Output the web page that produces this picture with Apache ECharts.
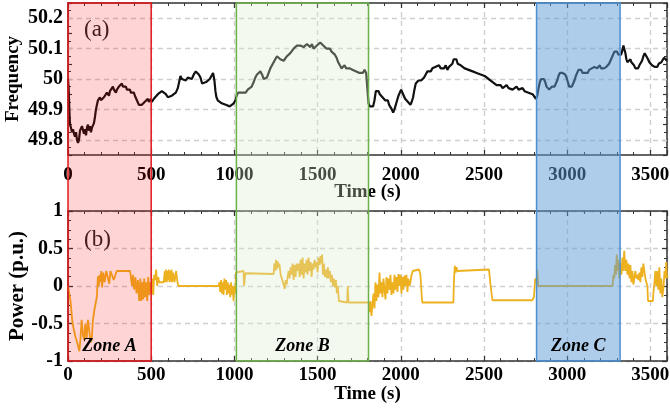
<!DOCTYPE html>
<html>
<head>
<meta charset="utf-8">
<script src="https://cdn.jsdelivr.net/npm/echarts@6/dist/echarts.min.js"></script>
<style>
html,body{margin:0;padding:0;background:#fff}
#chart{width:670px;height:408px}
</style>
</head>
<body>
<div id="chart"></div>
<script>
// Grid frequency (Hz) over one hour
const freqTime = [
  0,4,8,12,18,24,30,36,42,48,54,60,66,72,78,84,90,96,102,108,114,120,126,132,138,144,150,156,162,168,174,180,186,192,198,
  204,210,216,222,228,234,240,246,252,258,264,270,276,282,288,294,300,306,312,318,324,330,336,342,348,354,360,366,372,378,
  384,390,396,402,408,414,420,426,432,438,444,450,456,462,468,474,480,486,492,498,
  504,516,528,540,552,564,576,588,600,612,624,636,648,660,668,676,684,696,708,720,732,744,756,768,778,786,796,806,818,830,
  842,852,862,872,880,886,892,900,912,924,936,948,960,972,984,996,1006,1014,1022,1032,1044,1056,1068,1080,1092,1104,1116,
  1126,1136,1146,1156,1166,1176,1186,1196,1206,1216,1226,1236,1246,1256,1266,1276,1286,1296,1306,1316,1326,1336,1346,1356,
  1366,1376,1386,1396,1406,1416,1426,1436,1446,1456,1466,1476,1486,1496,1506,1516,1526,1534,1544,1554,1564,1574,1584,1594,
  1604,1614,1624,1634,1644,1652,1662,1672,1682,1692,1702,1712,1722,1732,1742,1752,1762,1772,1782,1792,1802,
  1806,1814,1824,1834,1842,1850,1858,1866,1874,1882,1890,1898,1906,1914,1922,1930,1938,1946,1954,1962,1970,1978,1986,1994,
  2002,2010,2018,2026,2034,2042,2050,2058,2066,2074,2082,2090,2098,2106,2114,2122,2130,2140,2150,2160,2170,2180,2190,2200,
  2210,2220,2230,2240,2250,2260,2270,2280,2290,2300,2310,2318,2326,2334,2342,2350,2360,2372,2384,2396,2408,2420,2432,2444,
  2456,2468,2480,2492,2504,2516,2528,2540,2552,2564,2576,2588,2600,2612,2624,2636,2648,2660,2672,2684,2696,2708,2720,2732,
  2744,2756,2768,2780,2792,2804,2812,2820,2828,2836,2844,2852,2860,2868,2876,2884,2892,2900,2908,2916,2924,2932,2940,2948,
  2956,2964,2972,2980,2988,2996,3004,3012,3020,3028,3036,3044,3052,3060,3068,3076,3084,3092,3100,3108,3116,3124,3132,3140,
  3148,3156,3164,3172,3180,3188,3196,3204,3212,3220,3228,3236,3244,3252,3260,3268,3276,3284,3292,3300,3308,3316,3324,3332,
  3338,3344,3350,3356,3362,3368,3374,3380,3386,3394,3402,3410,3418,3426,3434,3442,3450,3458,3466,3472,3478,3486,3494,3502,
  3510,3518,3526,3534,3542,3550,3558,3566,3574,3582,3590,3600
];
const freqValue = [
  50.00,49.97,49.90,49.85,49.84,49.825,49.835,49.82,49.81,49.825,49.80,49.79,49.80,49.83,49.825,49.845,49.84,49.82,49.835,49.815,49.84,49.85,49.83,49.845,49.825,49.84,49.835,49.855,49.875,49.90,49.915,49.93,49.925,49.94,49.93,
  49.935,49.925,49.94,49.945,49.94,49.955,49.95,49.945,49.96,49.955,49.965,49.975,49.965,49.96,49.955,49.965,49.97,49.975,49.97,49.98,49.985,49.975,49.98,49.97,49.975,49.965,49.97,49.96,49.965,49.955,
  49.96,49.95,49.955,49.945,49.94,49.93,49.925,49.915,49.92,49.91,49.915,49.92,49.915,49.925,49.92,49.93,49.935,49.925,49.93,49.935,
  49.925,49.935,49.94,49.95,49.955,49.96,49.955,49.95,49.94,49.935,49.945,49.95,49.955,49.97,49.99,50.01,50.00,50.005,49.995,50.005,50.01,50.00,50.015,50.025,50.03,50.015,50.005,49.985,49.98,49.99,
  49.985,50.00,50.01,50.02,49.995,49.96,49.94,49.93,49.935,49.92,49.925,49.915,49.92,49.91,49.915,49.92,49.93,49.945,49.955,49.95,49.955,49.96,49.955,49.965,49.97,49.975,49.99,
  50.005,50.015,50.01,50.025,50.015,50.00,49.995,50.005,50.02,50.035,50.045,50.055,50.065,50.075,50.07,50.065,50.07,50.06,50.065,50.075,50.08,50.085,50.09,50.10,
  50.105,50.11,50.105,50.11,50.11,50.105,50.11,50.115,50.11,50.105,50.115,50.10,50.105,50.11,50.115,50.12,50.125,50.11,50.105,50.10,50.095,50.10,50.09,50.085,
  50.08,50.07,50.055,50.045,50.035,50.04,50.045,50.035,50.04,50.035,50.04,50.03,50.035,50.025,50.03,50.02,50.025,50.02,50.03,50.02,50.025,
  49.92,49.91,49.915,49.91,49.93,49.96,49.955,49.96,49.95,49.955,49.94,49.945,49.93,49.925,49.93,49.915,49.91,49.90,49.89,49.90,49.915,49.93,49.945,49.955,
  49.965,49.96,49.945,49.935,49.93,49.925,49.92,49.915,49.925,49.94,49.965,49.985,49.99,49.995,49.99,49.995,50.00,50.005,50.015,50.025,50.03,50.025,50.035,50.03,
  50.04,50.035,50.045,50.035,50.04,50.035,50.045,50.03,50.04,50.035,50.05,50.065,50.06,50.065,50.05,50.055,50.045,50.04,50.035,50.04,50.03,50.035,50.025,50.03,
  50.02,50.025,50.015,50.02,50.01,50.005,50.00,49.995,49.99,49.985,49.98,49.975,49.98,49.97,49.975,49.98,49.97,49.975,49.965,49.97,49.975,49.965,49.96,49.97,
  49.96,49.965,49.955,49.96,49.95,49.945,49.935,49.945,49.97,49.99,50.00,49.995,50.00,49.99,49.975,49.97,49.965,49.97,49.975,49.97,49.975,49.985,49.995,50.01,
  50.02,50.025,50.02,50.025,50.015,50.005,49.99,49.975,49.97,49.975,49.985,49.995,50.01,50.02,50.03,50.025,50.03,50.02,50.025,50.02,50.025,50.02,50.03,50.025,
  50.035,50.03,50.04,50.045,50.035,50.04,50.045,50.035,50.04,50.035,50.03,50.04,50.035,50.05,50.06,50.07,50.08,50.09,50.085,50.09,50.08,50.075,50.08,50.095,
  50.11,50.105,50.085,50.065,50.055,50.06,50.05,50.065,50.055,50.06,50.045,50.035,50.04,50.035,50.045,50.05,50.06,50.075,50.085,50.09,50.08,50.065,50.055,50.06,
  50.045,50.05,50.04,50.045,50.04,50.05,50.045,50.055,50.06,50.07,50.065,50.06
];

// Storage power output (p.u.)
const powerTime = [
  0,8,15,25,32,45,55,68,75,82,90,97,104,112,120,128,135,142,150,160,173,180,185,190,195,200,205,212,220,230,240,248,255,265,275,285,293,300,373,
  380,385,390,398,405,412,420,428,435,440,447,452,458,464,470,476,482,488,494,500,506,512,518,524,530,536,542,548,575,
  582,586,590,594,598,602,606,610,614,618,622,626,632,640,650,658,664,905,
  910,915,920,925,930,935,940,945,950,955,960,965,970,975,980,985,990,995,1000,1005,1010,1015,1055,1058,1063,1066,1236,
  1240,1245,1250,1255,1260,1265,1270,1278,1285,1292,1298,1302,1308,1314,1320,1326,1332,1338,1344,1350,1356,1362,1368,1374,
  1380,1386,1392,1398,1404,1410,1416,1422,1428,1434,1440,1446,1452,1458,1464,1470,1476,1482,1488,1494,1500,1506,1512,1518,
  1524,1527,1532,1538,1544,1550,1556,1562,1568,1574,1580,1586,1592,1598,1604,1610,1616,1622,1628,1633,1678,1681,1686,1808,
  1812,1818,1824,1830,1836,1842,1848,1854,1860,1866,1872,1878,1884,1890,1896,1902,1908,1914,1920,1926,1932,1938,1944,1950,
  1956,1962,1968,1974,1980,1986,1992,1998,2004,2010,2016,2022,2028,2034,2040,2046,2052,2058,2065,2072,2079,2110,2118,2125,
  2129,2316,2320,2325,2330,2335,2340,2345,2530,2540,2551,2790,2800,2808,2815,2820,2826,2830,3273,
  3278,3283,3288,3293,3298,3303,3308,3313,3320,3326,3332,3337,3343,3350,3356,3362,3368,3375,3380,3386,3392,3398,3404,3410,
  3416,3422,3428,3434,3440,3446,3452,3458,3464,3470,3476,3482,3486,3500,3515,3520,3525,3530,3536,3542,3548,3554,3560,3566,
  3572,3580,3585,3590,3595,3600
];
const powerValue = [
  0,0,-0.2,-0.45,-0.55,-0.68,-0.75,-0.87,-0.7,-0.45,-0.65,-0.72,-0.5,-0.7,-0.45,-0.6,-0.75,-0.72,-0.45,-0.3,-0.15,0.13,0.0,0.15,0.05,0.2,-0.02,0.18,0.05,0.2,0.2,0.03,0.2,0.22,0.08,0.1,0.2,0.2,0.2,
  0.22,0.0,0.15,-0.05,0.12,-0.1,0.08,-0.2,0.1,-0.2,0.05,-0.18,0.1,-0.15,0.05,-0.2,0.12,-0.12,0.05,-0.1,0.1,-0.12,0.15,0.08,0.22,0.0,0.12,0.05,0.05,
  0.2,0.05,0.22,0.05,0.2,0.08,0.22,0.05,0.2,0.06,0.22,0.05,0.18,0.05,0.2,0.05,0.0,0.0,
  0.05,-0.08,0.08,-0.1,0.05,-0.12,0.1,-0.05,0.08,-0.12,0.05,-0.1,0.02,-0.15,0.05,-0.12,0.0,-0.2,0.0,-0.1,0.18,0.2,0.2,0.0,0.0,0.17,0.16,
  0.3,0.2,0.35,0.22,0.33,0.25,0.3,0.15,0.1,0.05,0.0,-0.04,0.08,0.02,0.12,0.2,0.1,0.25,0.15,0.3,0.08,0.28,0.12,0.3,
  0.2,0.3,0.12,0.35,0.15,0.38,0.1,0.3,0.18,0.35,0.15,0.38,0.2,0.32,0.12,0.3,0.22,0.35,0.25,0.32,0.18,0.38,0.28,0.4,
  0.3,0.42,0.15,0.3,0.12,0.22,0.1,0.25,0.1,0.2,0.05,0.15,0.0,0.1,-0.02,0.08,-0.1,0.0,-0.2,-0.22,-0.22,0.0,-0.22,-0.22,
  -0.35,-0.2,-0.4,-0.25,-0.1,-0.3,0.05,-0.2,0.02,-0.15,0.18,-0.1,0.05,-0.15,0.1,-0.05,-0.18,0.12,-0.1,0.1,-0.05,0.15,-0.12,0.05,
  -0.1,0.15,-0.05,0.12,-0.08,0.16,0.0,0.15,-0.1,0.12,-0.05,0.14,0.0,0.15,-0.08,0.1,0.0,0.05,0.15,0.2,0.22,0.22,0.15,-0.1,
  -0.22,-0.22,0.1,0.27,0.18,0.25,0.2,0.22,0.22,0.0,-0.19,-0.19,-0.15,0.1,0.05,0.22,0.0,0.0,0.0,
  0.15,0.1,0.28,0.15,0.42,0.2,0.35,0.1,0.3,0.15,0.38,0.2,0.47,0.2,0.35,0.15,0.3,0.1,0.28,0.05,0.2,0.02,0.0,0.2,
  0.1,0.15,0.08,0.18,0.05,0.25,0.12,0.3,0.3,0.1,0.05,0.0,-0.2,-0.2,-0.2,-0.05,0.05,0.2,0.0,0.2,-0.05,0.25,-0.1,0.1,
  -0.15,0.0,0.2,0.1,0.32,0.1
];

const freqGridValues = [49.8, 49.9, 50.0, 50.1, 50.2];

const zoneNames = ['Zone A', 'Zone B', 'Zone C'];
const zoneStart = [0, 1012, 2816];
const zoneEnd = [500, 1806, 3318];
const zoneFill = ['rgba(255,0,0,0.17)', 'rgba(219,237,206,0.32)', 'rgba(91,155,213,0.5)'];
const zoneBorder = ['#e3191e', '#6cb04a', '#4a90d2'];

const freqData = freqTime.map((t, i) => [t, freqValue[i]]);
const powerData = powerTime.map((t, i) => [t, powerValue[i]]);

const SERIF = 'Liberation Serif';
const AXIS_COLOR = '#333';
const dashed = { color: '#cfcfcf', width: 1.4, type: [5, 4] };

function bottomX(gridIndex, labelMargin, nameGap) {
  return {
    type: 'value', gridIndex, position: 'bottom', min: 0, max: 3600, interval: 500,
    name: 'Time (s)', nameLocation: 'middle', nameGap, nameMoveOverlap: false,
    nameTextStyle: { fontFamily: SERIF, fontWeight: 'bold', fontSize: 19, color: '#000', verticalAlign: 'top' },
    axisLine: { onZero: false, lineStyle: { color: AXIS_COLOR, width: 1.5 } },
    axisTick: { inside: true, length: 5, lineStyle: { color: AXIS_COLOR, width: 1.2 } },
    minorTick: { show: true, splitNumber: 5, length: 3, lineStyle: { color: AXIS_COLOR, width: 1 } },
    axisLabel: {
      margin: labelMargin, fontFamily: SERIF, fontWeight: 'bold', fontSize: 19, color: '#000',
      showMaxLabel: false, formatter: v => String(v)
    },
    splitLine: { show: true, lineStyle: dashed }
  };
}
function topX(gridIndex) {
  return {
    type: 'value', gridIndex, position: 'top', min: 0, max: 3600, interval: 500,
    axisLine: { onZero: false, lineStyle: { color: AXIS_COLOR, width: 1.5 } },
    axisTick: { inside: true, length: 5, lineStyle: { color: AXIS_COLOR, width: 1.2 } },
    minorTick: { show: true, splitNumber: 5, length: 3, lineStyle: { color: AXIS_COLOR, width: 1 } },
    axisLabel: { show: false },
    splitLine: { show: false }
  };
}

const option = {
  backgroundColor: '#fff',
  animation: false,
  title: [
    { text: '(a)', left: 79, top: 13, textStyle: { fontFamily: SERIF, fontWeight: 'normal', fontSize: 23, color: '#222' } },
    { text: '(b)', left: 79, top: 223, textStyle: { fontFamily: SERIF, fontWeight: 'normal', fontSize: 23, color: '#222' } }
  ],
  grid: [
    { left: 68, top: 3, width: 599, height: 152, containLabel: false, outerBoundsMode: 'none' },
    { left: 68, top: 211, width: 599, height: 150, containLabel: false, outerBoundsMode: 'none' },
    { left: 68, top: 3, width: 599, height: 358, containLabel: false, outerBoundsMode: 'none' }
  ],
  xAxis: [
    bottomX(0, 11, 28),
    topX(0),
    bottomX(1, 5, 24),
    topX(1),
    { type: 'value', gridIndex: 2, min: 0, max: 3600, show: false }
  ],
  yAxis: [
    {
      type: 'value', gridIndex: 0, position: 'left', min: 49.75, max: 50.25, interval: 0.05,
      name: 'Frequency', nameLocation: 'middle', nameGap: 45, nameRotate: 90, nameMoveOverlap: false,
      nameTextStyle: { fontFamily: SERIF, fontWeight: 'bold', fontSize: 19, color: '#000' },
      axisLine: { onZero: false, lineStyle: { color: AXIS_COLOR, width: 1.5 } },
      axisTick: { inside: true, length: 4, lineStyle: { color: AXIS_COLOR, width: 1.2 } },
      minorTick: { show: true, splitNumber: 2, length: 3, lineStyle: { color: AXIS_COLOR, width: 1 } },
      axisLabel: {
        margin: 5, fontFamily: SERIF, fontWeight: 'bold', fontSize: 20, color: '#000',
        formatter: v => (Math.abs(v * 10 - Math.round(v * 10)) < 1e-6 && v > 49.76 && v < 50.24) ? String(+v.toFixed(1)) : ''
      },
      splitLine: { show: false }
    },
    {
      type: 'value', gridIndex: 0, position: 'right', min: 49.75, max: 50.25, interval: 0.05,
      axisLine: { onZero: false, lineStyle: { color: AXIS_COLOR, width: 1.5 } },
      axisTick: { inside: true, length: 4, lineStyle: { color: AXIS_COLOR, width: 1.2 } },
      minorTick: { show: true, splitNumber: 2, length: 3, lineStyle: { color: AXIS_COLOR, width: 1 } },
      axisLabel: { show: false },
      splitLine: { show: false }
    },
    {
      type: 'value', gridIndex: 1, position: 'left', min: -1, max: 1, interval: 0.5,
      name: 'Power (p.u.)', nameLocation: 'middle', nameGap: 40, nameRotate: 90, nameMoveOverlap: false,
      nameTextStyle: { fontFamily: SERIF, fontWeight: 'bold', fontSize: 21, color: '#000' },
      axisLine: { onZero: false, lineStyle: { color: AXIS_COLOR, width: 1.5 } },
      axisTick: { inside: true, length: 5, lineStyle: { color: AXIS_COLOR, width: 1.2 } },
      minorTick: { show: true, splitNumber: 4, length: 3, lineStyle: { color: AXIS_COLOR, width: 1 } },
      axisLabel: { margin: 5, fontFamily: SERIF, fontWeight: 'bold', fontSize: 20, color: '#000' },
      splitLine: { show: true, lineStyle: dashed }
    },
    {
      type: 'value', gridIndex: 1, position: 'right', min: -1, max: 1, interval: 0.5,
      axisLine: { onZero: false, lineStyle: { color: AXIS_COLOR, width: 1.5 } },
      axisTick: { inside: true, length: 5, lineStyle: { color: AXIS_COLOR, width: 1.2 } },
      minorTick: { show: true, splitNumber: 4, length: 3, lineStyle: { color: AXIS_COLOR, width: 1 } },
      axisLabel: { show: false },
      splitLine: { show: false }
    },
    { type: 'value', gridIndex: 2, min: 0, max: 1, show: false }
  ],
  series: [
    {
      // dashed horizontal guides at the labelled frequency values
      type: 'line', xAxisIndex: 0, yAxisIndex: 0, data: [], z: 1, silent: true,
      markLine: {
        z: 1, silent: true, symbol: ['none', 'none'], label: { show: false },
        lineStyle: dashed,
        data: freqGridValues.map(v => ({ yAxis: v }))
      }
    },
    {
      type: 'line', xAxisIndex: 0, yAxisIndex: 0, data: freqData, z: 3,
      showSymbol: false, symbol: 'none',
      lineStyle: { color: '#111', width: 2.2 }
    },
    {
      type: 'line', xAxisIndex: 2, yAxisIndex: 2, data: powerData, z: 3,
      showSymbol: false, symbol: 'none',
      lineStyle: { color: '#EDB120', width: 1.8 }
    },
    {
      // highlighted time zones spanning both panels
      type: 'line', xAxisIndex: 4, yAxisIndex: 4, data: [], z: 10, silent: true,
      markArea: {
        z: 10, silent: true,
        data: zoneNames.map((name, i) => [
          {
            name, xAxis: zoneStart[i], yAxis: 0,
            itemStyle: { color: zoneFill[i], borderColor: zoneBorder[i], borderWidth: 1.5 }
          },
          { xAxis: zoneEnd[i], yAxis: 1 }
        ]),
        label: {
          show: true, position: 'insideBottom', distance: 6,
          fontFamily: SERIF, fontWeight: 'bold', fontStyle: 'italic', fontSize: 18, color: '#000'
        }
      }
    }
  ]
};

const chart = echarts.init(document.getElementById('chart'), null, { renderer: 'canvas' });
chart.setOption(option);
</script>
</body>
</html>
